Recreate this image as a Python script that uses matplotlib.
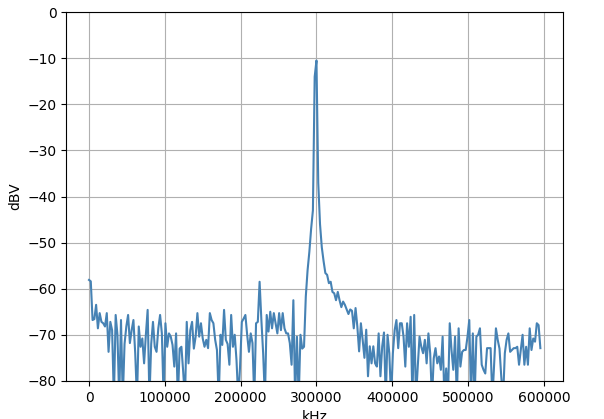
import numpy as np
import matplotlib
matplotlib.use("Agg")
import matplotlib.pyplot as plt

# FFT bin spacing in kHz (bins 0..254)
bin_step = 2343.75

# Magnitude per bin in dBV (values below -80 fall off the plot)
level_dbv = [
    -58.1, -58.4, -66.8, -66.6, -63.5, -68.6, -65.3, -67.2, -67.5, -68.2,
    -65.3, -73.7, -67.2, -69.0, -84.0, -65.7, -70.0, -84.0, -66.8, -84.0,
    -72.0, -68.2, -65.7, -71.8, -69.0, -66.8, -74.0, -84.0, -68.2, -72.6,
    -70.8, -76.2, -70.0, -64.6, -84.0, -72.0, -67.2, -72.6, -73.7, -68.6,
    -65.7, -69.7, -84.0, -67.5, -72.6, -69.7, -70.4, -72.2, -76.9, -69.7,
    -84.0, -73.0, -72.6, -78.0, -84.0, -67.2, -76.2, -69.0, -67.2, -73.0,
    -70.4, -65.3, -70.4, -67.5, -70.8, -72.6, -71.1, -72.9, -65.3, -66.8,
    -67.5, -71.1, -73.3, -84.0, -70.0, -72.2, -64.6, -71.1, -72.0, -76.5,
    -65.7, -72.6, -70.0, -75.5, -84.0, -76.9, -67.2, -66.5, -65.7, -70.0,
    -73.7, -69.7, -71.8, -84.0, -67.5, -67.2, -58.5, -66.8, -74.0, -84.0,
    -65.7, -69.3, -65.0, -68.6, -65.3, -67.5, -69.7, -65.3, -69.0, -65.3,
    -68.6, -69.7, -69.7, -71.8, -76.5, -62.5, -84.0, -70.4, -84.0, -70.0,
    -73.0, -72.6, -61.7, -56.0, -52.0, -47.0, -43.0, -14.0, -10.5, -37.0,
    -46.0, -51.0, -54.0, -56.6, -57.0, -58.8, -58.5, -60.7, -61.0, -62.5,
    -60.7, -62.5, -64.0, -62.8, -63.5, -64.5, -65.5, -64.5, -64.8, -68.6,
    -64.2, -68.2, -73.6, -67.5, -71.1, -75.0, -68.9, -79.0, -72.5, -76.2,
    -72.5, -76.2, -76.9, -69.7, -79.0, -72.5, -69.5, -84.0, -70.0, -74.0,
    -84.0, -74.0, -69.0, -66.8, -72.9, -67.5, -67.5, -70.4, -76.9, -67.5,
    -72.6, -66.1, -84.0, -65.7, -84.0, -76.9, -70.4, -72.6, -74.0, -71.1,
    -76.2, -69.7, -74.0, -84.0, -75.1, -72.9, -76.2, -74.7, -77.6, -70.4,
    -84.0, -77.3, -84.0, -67.5, -73.3, -77.6, -70.4, -84.0, -68.6, -76.9,
    -73.7, -73.3, -73.3, -70.4, -66.8, -84.0, -69.7, -84.0, -70.4, -70.0,
    -68.6, -76.5, -77.6, -78.4, -72.9, -72.9, -72.9, -84.0, -76.2, -68.6,
    -71.1, -73.0, -79.1, -84.0, -74.0, -71.1, -69.7, -73.7, -73.3, -72.9,
    -72.9, -72.6, -76.5, -73.3, -70.0, -76.5, -72.6, -76.5, -68.6, -73.3,
    -70.8, -71.5, -67.5, -67.9, -72.9,
]

freq_khz = np.arange(len(level_dbv)) * bin_step

fig, ax = plt.subplots(figsize=(6.04, 4.19), dpi=100)
fig.subplots_adjust(left=0.110, right=0.932, top=0.971, bottom=0.091)

ax.plot(freq_khz, level_dbv, color='steelblue', linewidth=1.5)
ax.set_ylim(-80, 0)
ax.set_xlabel('kHz')
ax.set_ylabel('dBV')
ax.grid(True)

fig.savefig('out.png', dpi=100)
